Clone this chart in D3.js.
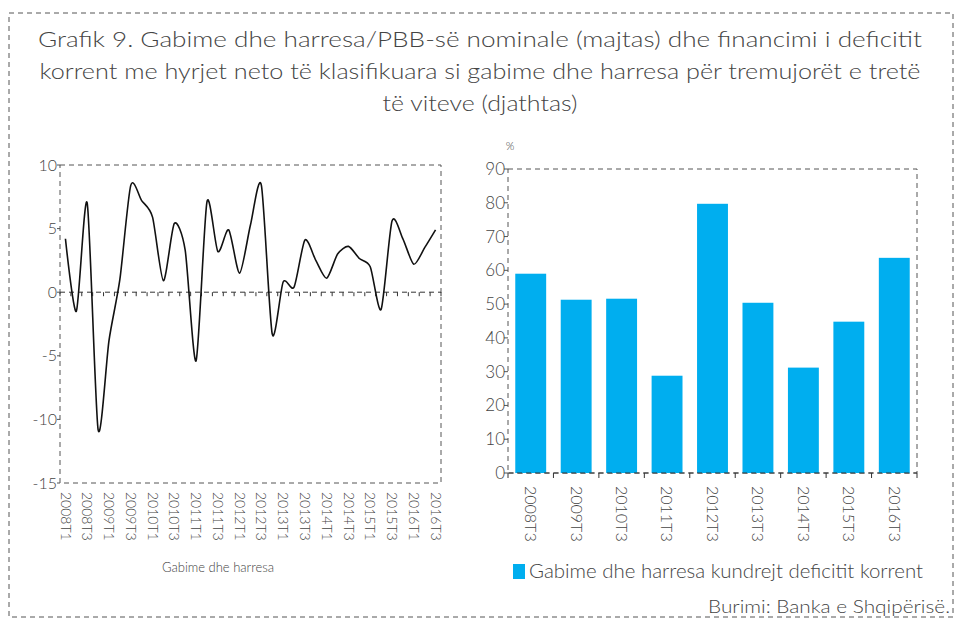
<!DOCTYPE html>
<html>
<head>
<meta charset="utf-8">
<script src="https://cdn.jsdelivr.net/npm/d3@7"></script>
<style>
  body { margin: 0; background: #fff; }
  svg text { font-family: Lato, "Open Sans", sans-serif; font-weight: 300; fill: #444; }
</style>
</head>
<body>
<svg id="chart" width="959" height="619"></svg>
<script>
// Left panel: errors and omissions / nominal GDP, quarterly
var quarters = [];
for (var yr = 2008; yr <= 2016; yr++) {
  for (var q = 1; q <= 4; q++) {
    if (yr === 2016 && q > 3) break;
    quarters.push(yr + "T" + q);
  }
}
var errorsValues = [
  4.2, -1.5, 7.0, -10.8, -3.8, 1.0, 8.4, 7.2, 5.9, 0.9,
  5.4, 3.3, -5.4, 7.1, 3.2, 4.9, 1.5, 5.3, 8.4, -3.3,
  0.8, 0.4, 4.1, 2.5, 1.1, 3.0, 3.6, 2.65, 2.0, -1.35,
  5.6, 4.2, 2.2, 3.5, 4.9
];
var leftTicks = [-15, -10, -5, 0, 5, 10];

// Right panel: share of current deficit financed by errors and omissions (Q3)
var barCategories = ["2008T3", "2009T3", "2010T3", "2011T3", "2012T3",
  "2013T3", "2014T3", "2015T3", "2016T3"];
var barValues = [59.0, 51.3, 51.6, 28.8, 79.7, 50.4, 31.2, 44.8, 63.7];
var rightTicks = [0, 10, 20, 30, 40, 50, 60, 70, 80, 90];

var titleLines = [
  "Grafik 9. Gabime dhe harresa/PBB-së nominale (majtas) dhe financimi i deficitit",
  "korrent me hyrjet neto të klasifikuara si gabime dhe harresa për tremujorët e tretë",
  "të viteve (djathtas)"
];

var svg = d3.select("#chart");
var dash = "5,4";
var frameColor = "#555";

// Outer dashed border
svg.append("rect")
  .attr("x", 9).attr("y", 13).attr("width", 944).attr("height", 604)
  .attr("fill", "none").attr("stroke", frameColor)
  .attr("stroke-dasharray", dash);

// Title (fitted to the original line widths)
var titleSpecs = [
  { y: 47, len: 884 },
  { y: 79, len: 881 },
  { y: 111, len: 195 }
];
titleLines.forEach(function(line, i) {
  svg.append("text")
    .attr("x", 480).attr("y", titleSpecs[i].y)
    .attr("text-anchor", "middle")
    .attr("font-size", 22)
    .attr("textLength", titleSpecs[i].len)
    .attr("lengthAdjust", "spacingAndGlyphs")
    .text(line);
});

/* ---------- Left chart ---------- */
var lx0 = 60, lx1 = 441, ly0 = 165, ly1 = 483;

var xL = d3.scalePoint().domain(quarters).range([lx0, lx1]).padding(0.5);
var yL = d3.scaleLinear().domain([-15, 10]).range([ly1, ly0]);
var stepL = xL.step();

var left = svg.append("g");

// dashed frame
left.append("rect")
  .attr("x", lx0).attr("y", ly0).attr("width", lx1 - lx0).attr("height", ly1 - ly0)
  .attr("fill", "none").attr("stroke", frameColor).attr("stroke-dasharray", dash);

// zero line with tick marks between categories
left.append("line")
  .attr("x1", lx0).attr("x2", lx1).attr("y1", yL(0)).attr("y2", yL(0))
  .attr("stroke", "#333").attr("stroke-dasharray", dash);
d3.range(quarters.length + 1).forEach(function(k) {
  var x = lx0 + k * stepL;
  left.append("line")
    .attr("x1", x).attr("x2", x).attr("y1", yL(0)).attr("y2", yL(0) + 4)
    .attr("stroke", "#333");
});

// y axis labels and ticks
leftTicks.forEach(function(t) {
  left.append("line")
    .attr("x1", lx0 - 3).attr("x2", lx0).attr("y1", yL(t)).attr("y2", yL(t))
    .attr("stroke", "#555");
  left.append("text")
    .attr("x", lx0 - 3).attr("y", yL(t)).attr("dy", "0.35em")
    .attr("text-anchor", "end").attr("font-size", 16)
    .text(t);
});

// x labels, every second quarter, rotated
quarters.forEach(function(qt, i) {
  if (i % 2 !== 0) return;
  left.append("text")
    .attr("transform", "translate(" + xL(qt) + "," + (ly1 + 9) + ") rotate(90)")
    .attr("dy", "0.35em").attr("font-size", 14)
    .text(qt);
});

// smoothed line
var line = d3.line()
  .x(function(d, i) { return xL(quarters[i]); })
  .y(function(d) { return yL(d); })
  .curve(d3.curveCardinal.tension(0.25));
left.append("path")
  .datum(errorsValues)
  .attr("d", line)
  .attr("fill", "none").attr("stroke", "#111").attr("stroke-width", 1.6);

left.append("text")
  .attr("x", 218).attr("y", 572).attr("text-anchor", "middle")
  .attr("font-size", 13)
  .text("Gabime dhe harresa");

/* ---------- Right chart ---------- */
var rx0 = 508, rx1 = 917, ry0 = 169, ry1 = 473;

var xR = d3.scaleBand().domain(barCategories).range([rx0, rx1])
  .paddingInner(0.32).paddingOuter(0.16);
var yR = d3.scaleLinear().domain([0, 90]).range([ry1, ry0]);
var stepR = xR.step();

var right = svg.append("g");

right.append("rect")
  .attr("x", rx0).attr("y", ry0).attr("width", rx1 - rx0).attr("height", ry1 - ry0)
  .attr("fill", "none").attr("stroke", frameColor).attr("stroke-dasharray", dash);

right.selectAll("rect.bar")
  .data(barValues)
  .enter().append("rect")
  .attr("class", "bar")
  .attr("x", function(d, i) { return xR(barCategories[i]); })
  .attr("y", function(d) { return yR(d); })
  .attr("width", xR.bandwidth())
  .attr("height", function(d) { return yR(0) - yR(d); })
  .attr("fill", "#00AEEF");

// bottom line with category boundary ticks
right.append("line")
  .attr("x1", rx0).attr("x2", rx1).attr("y1", ry1).attr("y2", ry1)
  .attr("stroke", "#333").attr("stroke-dasharray", dash);
d3.range(barCategories.length + 1).forEach(function(k) {
  var x = rx0 + k * stepR;
  right.append("line")
    .attr("x1", x).attr("x2", x).attr("y1", ry1).attr("y2", ry1 + 5)
    .attr("stroke", "#333");
});

rightTicks.forEach(function(t) {
  right.append("line")
    .attr("x1", rx0 - 4).attr("x2", rx0).attr("y1", yR(t)).attr("y2", yR(t))
    .attr("stroke", "#555");
  right.append("text")
    .attr("x", rx0 - 3).attr("y", yR(t)).attr("dy", "0.35em")
    .attr("text-anchor", "end").attr("font-size", 17)
    .text(t);
});

barCategories.forEach(function(c) {
  right.append("text")
    .attr("transform", "translate(" + (xR(c) + xR.bandwidth() / 2) + "," + (ry1 + 13) + ") rotate(90)")
    .attr("dy", "0.35em").attr("font-size", 16)
    .text(c);
});

right.append("text")
  .attr("x", 510).attr("y", 146).attr("dy", "0.35em")
  .attr("text-anchor", "middle").attr("font-size", 11)
  .text("%");

// legend
right.append("rect")
  .attr("x", 513).attr("y", 564).attr("width", 12).attr("height", 15)
  .attr("fill", "#00AEEF");
right.append("text")
  .attr("x", 529).attr("y", 578).attr("font-size", 19)
  .attr("textLength", 394).attr("lengthAdjust", "spacingAndGlyphs")
  .text("Gabime dhe harresa kundrejt deficitit korrent");

svg.append("text")
  .attr("x", 950).attr("y", 613).attr("text-anchor", "end")
  .attr("font-size", 18)
  .attr("textLength", 242).attr("lengthAdjust", "spacingAndGlyphs")
  .text("Burimi: Banka e Shqipërisë.");
</script>
</body>
</html>
